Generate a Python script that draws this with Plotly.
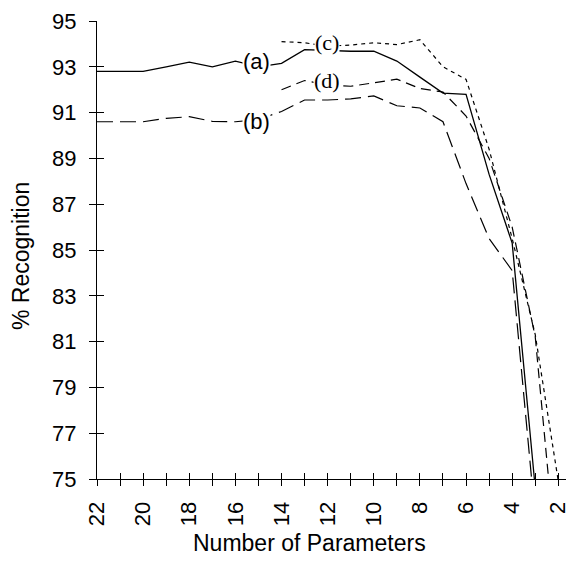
import plotly.graph_objects as go

# ---- data ----
params_a = [22, 21, 20, 19, 18, 17, 16, 15, 14, 13, 12, 11, 10, 9, 8, 7, 6, 5, 4, 3]
rec_a = [92.8, 92.8, 92.8, 93.0, 93.2, 93.0, 93.25, 93.0, 93.15, 93.75, 93.7, 93.68, 93.68,
         93.25, 92.55, 91.85, 91.8, 88.3, 85.3, 74.6]

params_b = [22, 21, 20, 19, 18, 17, 16, 15, 14, 13, 12, 11, 10, 9, 8, 7, 6, 5, 4, 3]
rec_b = [90.6, 90.6, 90.6, 90.75, 90.82, 90.62, 90.6, 90.7, 91.05, 91.55, 91.55, 91.6, 91.73,
         91.3, 91.2, 90.6, 87.9, 85.5, 84.1, 73.3]

params_c = [14, 13, 12, 11, 10, 9, 8, 7, 6, 5, 4, 3, 2]
rec_c = [94.1, 94.05, 93.9, 93.95, 94.05, 93.97, 94.18, 93.0, 92.45, 89.4, 85.5, 81.3, 74.9]

params_d = [14, 13, 12, 11, 10, 9, 8, 7, 6, 5, 4, 3, 2]
rec_d = [92.0, 92.4, 92.2, 92.15, 92.3, 92.46, 92.05, 91.9, 90.85, 89.0, 86.0, 81.2, 70.5]

series_labels = ["(a)", "(b)", "(c)", "(d)"]

x_tickvals = list(range(22, 1, -1))
x_ticktext = [str(v) if v % 2 == 0 else "" for v in x_tickvals]
y_tickvals = list(range(75, 96, 2))
y_ticktext = [str(v) for v in y_tickvals]

x_title = "Number of Parameters"
y_title = "% Recognition"

# ---- figure ----
# the page body has an 8px margin, so the figure starts at (8, 8) in the window
OFF = 8
W, H = 574 - OFF, 563 - OFF
PLOT_L, PLOT_R, PLOT_T, PLOT_B = 97, 571, 21, 479   # plot area in window pixels
ML = PLOT_L - OFF
MR = OFF + W - PLOT_R
MT = PLOT_T - OFF
MB = OFF + H - PLOT_B
XR = [22, 1.45]
YR = [75, 95]

fig = go.Figure()
styles = [
    dict(dash="solid", width=1.3),
    dict(dash="16px,7px", width=1.2),
    dict(dash="4px,4px", width=1.2),
    dict(dash="10px,6px", width=1.2),
]
for xs, ys, st in zip([params_a, params_b, params_c, params_d],
                      [rec_a, rec_b, rec_c, rec_d], styles):
    fig.add_trace(go.Scatter(x=xs, y=ys, mode="lines",
                             line=dict(color="black", **st),
                             showlegend=False, hoverinfo="skip"))

# invisible trace for the overlay axes (inside half of crossing ticks)
fig.add_trace(go.Scatter(x=[22], y=[75], xaxis="x2", yaxis="y2", mode="markers",
                         marker=dict(opacity=0), showlegend=False, hoverinfo="skip"))

tickfont = dict(family="Liberation Sans, Arial, sans-serif", size=22, color="black")

fig.update_layout(
    width=W, height=H,
    margin=dict(l=ML, r=MR, t=MT, b=MB, autoexpand=False),
    paper_bgcolor="white", plot_bgcolor="white",
    xaxis=dict(range=XR, tickmode="array", tickvals=x_tickvals, ticktext=x_ticktext,
               tickangle=-90, ticks="outside", ticklen=6, tickwidth=1, tickcolor="black",
               showline=True, linecolor="black", linewidth=1, showgrid=False,
               zeroline=False, tickfont=tickfont, ticklabelstandoff=7, automargin=False),
    yaxis=dict(range=YR, tickmode="array", tickvals=y_tickvals, ticktext=y_ticktext,
               ticks="outside", ticklen=7, tickwidth=1, tickcolor="black",
               showline=True, linecolor="black", linewidth=1, showgrid=False,
               zeroline=False, tickfont=tickfont, ticklabelstandoff=8, automargin=False),
    xaxis2=dict(range=XR, overlaying="x", anchor="y2", side="bottom",
                tickmode="array", tickvals=x_tickvals, ticks="inside", ticklen=6,
                tickwidth=1, tickcolor="black", showticklabels=False, automargin=False,
                showline=False, showgrid=False, zeroline=False),
    yaxis2=dict(range=YR, overlaying="y", anchor="x2", side="left",
                tickmode="array", tickvals=y_tickvals, ticks="inside", ticklen=7,
                tickwidth=1, tickcolor="black", showticklabels=False, automargin=False,
                showline=False, showgrid=False, zeroline=False),
)

pw = W - ML - MR
ph = H - MT - MB

def px_to_paper(px, py):
    """window pixel -> paper coords of the plot area"""
    return (px - PLOT_L) / pw, (PLOT_B - py) / ph

# axis titles
tx, ty = px_to_paper(21, 256)
fig.add_annotation(text=y_title, xref="paper", yref="paper", x=tx, y=ty,
                   textangle=-90, showarrow=False, xanchor="center", yanchor="middle",
                   font=dict(family="Liberation Sans, Arial, sans-serif", size=23, color="black"))
tx, ty = px_to_paper(309, 543)
fig.add_annotation(text=x_title, xref="paper", yref="paper", x=tx, y=ty,
                   showarrow=False, xanchor="center", yanchor="middle",
                   font=dict(family="Liberation Sans, Arial, sans-serif", size=23, color="black"))

# curve labels
label_pos = [(15.09, 93.21), (15.09, 90.59), (12.05, 94.04), (12.05, 92.42)]
label_fonts = ["Liberation Sans, Arial, sans-serif", "Liberation Sans, Arial, sans-serif",
               "Liberation Serif, Times New Roman, serif", "Liberation Serif, Times New Roman, serif"]
for lab, (lx, ly), ff in zip(series_labels, label_pos, label_fonts):
    fig.add_annotation(text=lab, x=lx, y=ly, xref="x", yref="y", showarrow=False,
                       xanchor="center", yanchor="middle", bgcolor="white", borderpad=0,
                       font=dict(family=ff, size=22, color="black"))

fig.write_html("out.html")
